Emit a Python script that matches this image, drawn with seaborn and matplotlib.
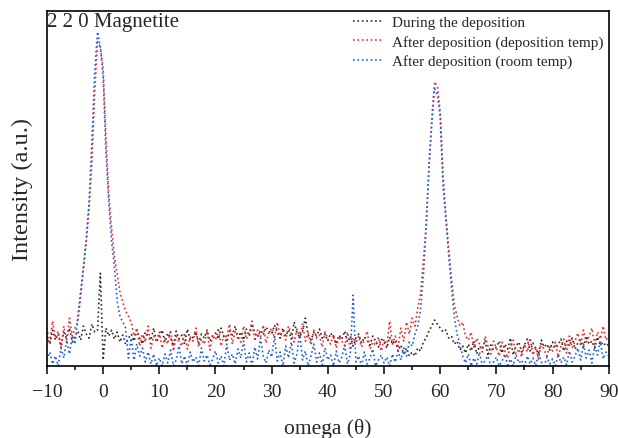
import numpy as np
import pandas as pd
import matplotlib
matplotlib.use("Agg")
import matplotlib.pyplot as plt
import seaborn as sns
from matplotlib.ticker import MultipleLocator

# omega scan grid (degrees), 0.5 deg step from -10 to 90
omega_start, omega_stop, omega_step = -10.0, 90.0, 0.5

labels = ["During the deposition",
          "After deposition (deposition temp)",
          "After deposition (room temp)"]

during = [
    30, 22, 36, 26, 32, 20, 34, 28, 38, 24,
    30, 35, 26, 40, 32, 28, 42, 34, 36, 93, 6, 38, 30, 36, 27, 34, 24, 31, 22, 28, 32, 25,
    36, 28, 22, 34, 30, 26, 38, 24,
    30, 36, 24, 33, 28, 20, 35, 27, 31, 22, 37, 26, 29, 34, 23, 32, 28, 36, 25, 30,
    33, 27, 38, 29, 24, 35, 31, 40, 28, 34, 26, 37, 30, 42, 33, 29, 36, 31, 39, 35,
    32, 41, 34, 28, 38, 30, 36, 27, 44, 33, 29, 35, 48, 31, 26, 34, 30, 37, 28, 32,
    25, 33, 29, 22, 31, 27, 35, 24, 30, 20, 28, 32, 23, 29, 26, 21, 30, 25, 19, 27,
    24, 18, 29, 22, 26, 15, 21, 12, 18, 10, 14, 10,
    18, 15, 24, 28, 35, 40, 46, 42, 38, 34, 36, 28, 30, 22, 25, 16, 20, 13,
    22, 15, 25, 12, 20, 17, 26, 10, 21, 16,
    19, 25, 13, 22, 17, 28, 11, 20, 24, 14, 21, 27, 15, 23, 18, 12, 26, 19, 22, 16,
    24, 18, 21, 27, 15, 25, 20, 28, 17, 23, 26, 19, 30, 22, 25, 18, 29, 21, 24, 20,
    22,
]

after_dep_temp = [
    38, 22, 45, 28, 35, 18, 40, 25, 48, 30,
    38, 44, 70, 98, 125, 158, 205, 275, 325, 320, 298, 228, 172, 138, 110, 92, 74, 64, 55, 50, 44, 30,
    38, 20, 32, 24, 40, 18, 30, 26,
    34, 18, 28, 22, 36, 15, 30, 24, 20, 33, 17, 29, 25, 38, 19, 27, 22, 35, 16, 31,
    26, 38, 20, 32, 28, 42, 22, 35, 30, 24, 40, 27, 33, 45, 25, 36, 29, 41, 23, 34,
    38, 28, 44, 30, 35, 26, 40, 32, 24, 37, 29, 42, 25, 33, 21, 36, 28, 31, 19, 34,
    27, 22, 32, 18, 30, 25, 20, 34, 16, 28, 23, 30, 19, 26, 35, 17, 24, 21, 29, 15,
    27, 20, 45, 22, 30, 18, 38, 25, 44, 32, 48, 40,
    58, 72, 105, 142, 200, 248, 285, 280, 255, 192, 152, 118, 88, 62, 50, 40, 44, 30,
    26, 34, 18, 28, 22, 14, 30, 20, 12, 25,
    18, 10, 24, 15, 8, 20, 26, 12, 17, 9, 22, 14, 28, 11, 19, 7, 23, 16, 10, 21,
    15, 24, 9, 20, 27, 13, 30, 18, 25, 33, 20, 36, 24, 30, 38, 22, 34, 27, 40, 26,
    30,
]

after_room_temp = [
    6, 14, 2, 10, 0, 18, 8, 26, 12, 30,
    22, 50, 75, 100, 128, 165, 225, 295, 335, 320, 290, 215, 165, 125, 100, 65, 50, 44, 38, 8, 28, 6,
    22, 10, 18, 4, 14, 2, 12, 0,
    8, 0, 12, 3, 16, 0, 6, 20, 2, 10, 0, 14, 4, 9, 0, 18, 5, 11, 1, 7,
    15, 3, 10, 0, 22, 6, 12, 2, 17, 8, 25, 4, 13, 0, 19, 7, 28, 10, 3, 16,
    9, 30, 5, 14, 0, 20, 8, 24, 3, 12, 33, 6, 15, 0, 10, 22, 4, 13, 1, 18,
    6, 11, 0, 15, 3, 9, 21, 2, 12, 71, 4, 10, 0, 14, 2, 8, 17, 0, 6, 11,
    3, 9, 0, 12, 4, 15, 6, 18, 10, 24, 20, 32,
    40, 56, 90, 138, 198, 242, 278, 272, 250, 180, 148, 112, 80, 50, 32, 22, 10, 3,
    12, 0, 8, 2, 14, 0, 6, 10, 0, 4,
    9, 0, 5, 12, 1, 7, 0, 11, 3, 6, 0, 10, 2, 8, 0, 13, 4, 0, 9, 2,
    7, 0, 12, 3, 9, 1, 15, 4, 10, 18, 6, 22, 8, 16, 3, 20, 11, 25, 7, 14,
    10,
]

colors = ["#2b2b2b", "#ee2a2a", "#1f5fd8"]

omega = omega_start + omega_step * np.arange(len(during))

df = pd.DataFrame({
    "omega": np.concatenate([omega] * 3),
    "intensity": np.concatenate([during, after_dep_temp, after_room_temp]),
    "series": np.repeat(labels, len(omega)),
})

sns.set_theme(style="white")
plt.rcParams["font.family"] = ["Liberation Serif", "DejaVu Serif"]
plt.rcParams["axes.unicode_minus"] = True

fig = plt.figure(figsize=(6.18, 4.39), dpi=100)
ax = fig.add_axes([0.076, 0.164, 0.909, 0.809])

for lab, col in zip(labels, colors):
    sub = df[df["series"] == lab]
    sns.lineplot(data=sub, x="omega", y="intensity", ax=ax, color=col,
                 linestyle=":", linewidth=1.2, label=lab, sort=False,
                 estimator=None)

ax.set_xlim(-10, 90)
ax.set_ylim(0, 356)
ax.xaxis.set_major_locator(MultipleLocator(10))
ax.xaxis.set_minor_locator(MultipleLocator(5))
ax.set_yticks([])
ax.tick_params(axis="x", which="major", direction="out", length=6, width=1.1,
               labelsize=14, color="black", bottom=True, pad=6)
ax.tick_params(axis="x", which="minor", direction="out", length=3, width=1.1,
               color="black", bottom=True)
for sp in ax.spines.values():
    sp.set_visible(True)
    sp.set_color("black")
    sp.set_linewidth(1.2)

ax.set_xlabel("omega (θ)", fontsize=15.5, labelpad=13)
ax.set_ylabel("Intensity (a.u.)", fontsize=17.5, labelpad=10)

ax.text(0.0, 0.997, "2 2 0 Magnetite", transform=ax.transAxes,
        ha="left", va="top", fontsize=15)

leg = ax.legend(loc="upper right", frameon=False, fontsize=11.0,
                handlelength=1.9, handletextpad=0.7, labelspacing=0.36,
                borderaxespad=0.22, borderpad=0.1)

fig.savefig("out.png", dpi=100)
